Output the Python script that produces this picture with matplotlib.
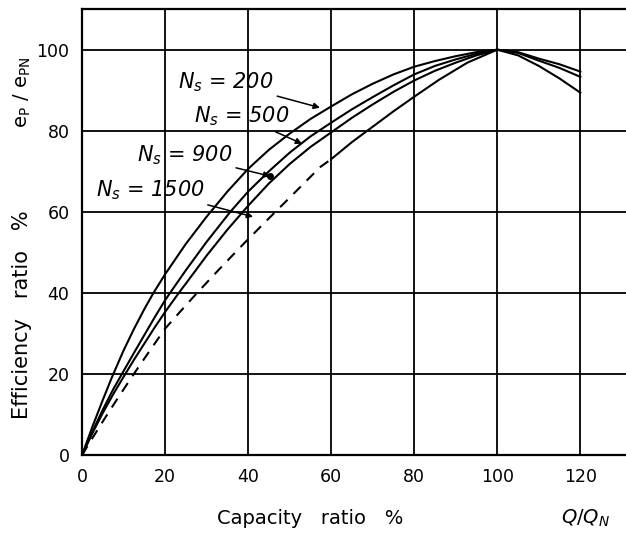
import numpy as np
import matplotlib.pyplot as plt

plt.rcParams['font.family'] = 'DejaVu Sans'
plt.rcParams['mathtext.fontset'] = 'dejavusans'

# values (capacity ratio %, efficiency ratio %)
q_200 = [0, 2.5, 5, 7.2, 10, 12.5, 15, 17.2, 20, 25, 30, 35, 40, 45, 50, 55, 60, 65, 70, 75, 80, 85, 90, 95, 100, 105, 110, 115, 120]
e_200 = [0, 7.0, 13.6, 19.2, 25.8, 31.1, 36, 40, 44.6, 52.1, 58.8, 65, 70.6, 75.3, 79.3, 82.9, 86, 89, 91.6, 93.9, 95.8, 97.2, 98.4, 99.4, 100, 99.4, 97.8, 96.4, 94.6]

q_500 = [0, 2.5, 5, 7.5, 9.6, 12.5, 15, 17.5, 20, 21.2, 25, 30, 35.7, 40, 45, 50, 55, 60, 65, 70, 75, 80, 85, 90, 95, 100, 105, 110, 115, 120]
e_500 = [0, 5.8, 11.2, 16.2, 20, 25.2, 29.6, 34, 38.2, 40, 45.6, 52.6, 60, 65, 70, 74.6, 78.6, 82, 85.3, 88.3, 91.2, 93.9, 96, 97.6, 99, 100, 99.2, 97.3, 95.5, 93.3]

q_900 = [0, 2.5, 5, 7.5, 10, 12.5, 15, 17.5, 20, 23.3, 25, 30, 35, 40, 45, 50, 55, 60, 65, 70, 75, 80, 85, 90, 95, 100, 105, 110, 115, 120]
e_900 = [0, 5.4, 10.4, 15, 19.3, 23.5, 27.5, 31.5, 35.3, 40, 42.3, 49.2, 55.6, 61.5, 67, 71.8, 76, 79.6, 83.2, 86.5, 89.6, 92.4, 94.8, 96.8, 98.6, 100, 98.6, 96, 92.9, 89.4]

q_1500_dash = [0, 2.5, 5, 7.5, 10, 12, 15, 20, 24, 27.7, 33, 38.8, 44.6, 50, 57.3, 60]
e_1500_dash = [0, 4.2, 8.3, 12.3, 16.2, 19.3, 23.8, 31.2, 35.8, 40, 45.8, 52, 58, 63.5, 71, 73]
q_1500 = [60, 65, 70, 75, 80, 86, 92.8, 100]
e_1500 = [73, 77.2, 81, 84.8, 88.4, 92.6, 96.8, 100]

x_ticks = [0, 20, 40, 60, 80, 100, 120]
y_ticks = [0, 20, 40, 60, 80, 100]

labels = ['$N_s$ = 200', '$N_s$ = 500', '$N_s$ = 900', '$N_s$ = 1500']
label_xy = [(46, 92), (50, 83.5), (36.1, 74), (29.6, 65.4)]
arrow_to = [(57.3, 85.7), (53, 76.8), (45.3, 68.8), (41.2, 58.8)]

fig = plt.figure(figsize=(6.26, 5.38), dpi=100)
ax = fig.add_axes([0.131, 0.154, 0.869, 0.829])

lw = 1.5
ax.plot(q_200, e_200, color='black', lw=lw)
ax.plot(q_500, e_500, color='black', lw=lw)
ax.plot(q_900, e_900, color='black', lw=lw)
ax.plot(q_1500_dash, e_1500_dash, color='black', lw=lw, ls=(0, (5, 4)))
ax.plot(q_1500, e_1500, color='black', lw=lw)

for lab, xy, tgt in zip(labels, label_xy, arrow_to):
    ax.annotate(lab, xy=tgt, xytext=xy, ha='right', va='center',
                fontsize=15, fontstyle='italic',
                arrowprops=dict(arrowstyle='-|>', color='black', lw=1.1,
                                shrinkA=1, shrinkB=0, mutation_scale=9))
# dot where the Ns = 900 pointer meets its curve
ax.plot([arrow_to[2][0]], [arrow_to[2][1]], 'o', color='black', ms=4)

ax.set_xlim(0, 131)
ax.set_ylim(0, 110)
ax.set_xticks(x_ticks)
ax.set_yticks(y_ticks)
ax.set_xticklabels([str(v) for v in x_ticks], fontsize=12.5)
ax.set_yticklabels([str(v) for v in y_ticks], fontsize=12.5)
ax.tick_params(length=0, pad=9)
ax.grid(True, color='black', lw=1.3)
for side in ['left', 'bottom', 'top']:
    ax.spines[side].set_linewidth(1.6)
ax.spines['right'].set_visible(False)

fig.text(22 / 626, 1 - 315 / 538, 'Efficiency   ratio   %', rotation=90,
         ha='center', va='center', fontsize=15)
fig.text(22 / 626, 1 - 92 / 538, r'$\mathregular{e_P\ /\ e_{PN}}$', rotation=90,
         ha='center', va='center', fontsize=14)
fig.text(310 / 626, 1 - 518 / 538, 'Capacity   ratio   %', ha='center', va='center', fontsize=14)
fig.text(586 / 626, 1 - 518 / 538, '$Q/Q_N$', ha='center', va='center', fontsize=14)

plt.savefig('out.png', dpi=100)
